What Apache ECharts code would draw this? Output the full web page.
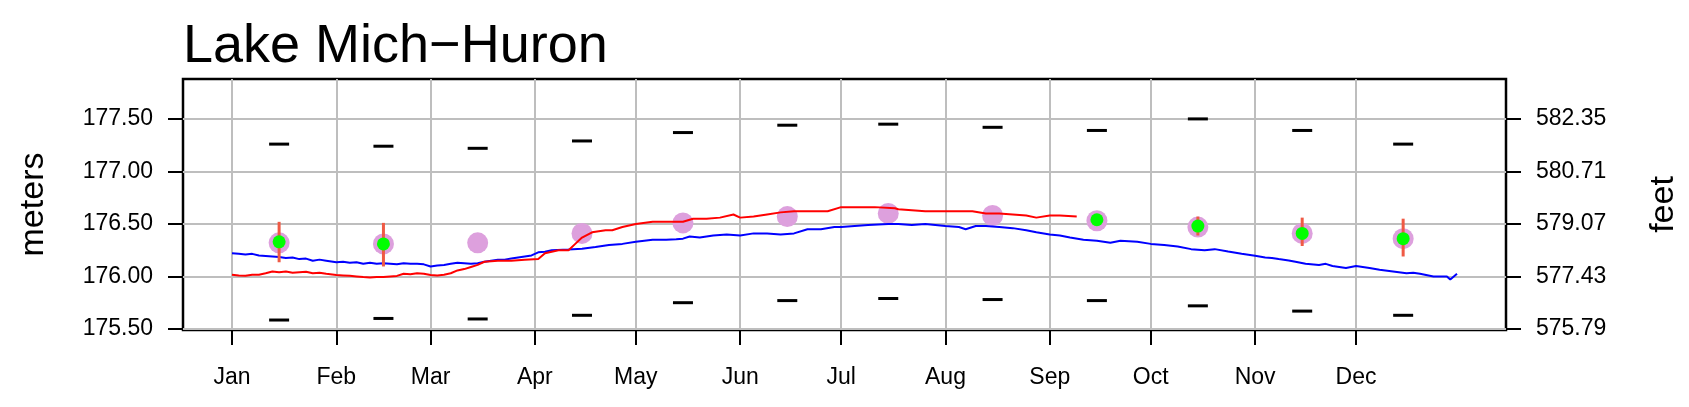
<!DOCTYPE html>
<html>
<head>
<meta charset="utf-8">
<title>Lake Mich-Huron</title>
<script src="https://cdn.jsdelivr.net/npm/echarts@6/dist/echarts.min.js"></script>
<style>
  html, body { margin: 0; padding: 0; background: #fff; }
  #main { width: 1689px; height: 407px; }
</style>
</head>
<body>
<div id="main"></div>
<script>
// month labels and where they sit (day of year)
var monthNames = ['Jan', 'Feb', 'Mar', 'Apr', 'May', 'Jun', 'Jul', 'Aug', 'Sep', 'Oct', 'Nov', 'Dec'];
var monthStarts = [0, 31, 59, 90, 120, 151, 181, 212, 243, 273, 304, 334];
var midMonth = [14, 45, 73, 104, 134, 165, 195, 226, 257, 287, 318, 348];
var meterTicks = [175.5, 176.0, 176.5, 177.0, 177.5];

// monthly mean, record max / min (meters)
var monthMean = [176.32, 176.31, 176.32, 176.41, 176.51, 176.57, 176.60, 176.58, 176.53, 176.47, 176.41, 176.36];
var monthMax = [177.26, 177.24, 177.22, 177.29, 177.37, 177.44, 177.45, 177.42, 177.39, 177.50, 177.39, 177.26];
var monthMin = [175.585, 175.60, 175.595, 175.63, 175.75, 175.77, 175.79, 175.78, 175.77, 175.72, 175.67, 175.63];

// forecast months (index into month arrays) with range
var fcMonth = [0, 1, 8, 9, 10, 11];
var fcLevel = [176.33, 176.31, 176.54, 176.48, 176.41, 176.36];
var fcHigh = [176.52, 176.51, 176.55, 176.57, 176.56, 176.55];
var fcLow = [176.135, 176.095, 176.53, 176.39, 176.29, 176.19];

// blue daily series
var blueDays = [0, 2, 4, 6, 8, 10, 12, 14, 16, 18, 20, 22, 24, 26, 28, 31, 33, 35, 37, 39, 41, 43, 45, 47, 49, 51,
  53, 55, 57, 59, 61, 63, 65, 67, 69, 71, 73, 75, 77, 79, 81, 83, 85, 87, 89, 91, 93, 95,
  100, 104, 108, 112, 116, 120, 125, 129, 132, 134, 136, 139, 143, 147, 151, 155, 159, 163, 167, 171, 175, 179, 181,
  185, 189, 195, 198, 202, 206, 212, 216, 218, 221, 224, 228, 232, 236, 239, 243, 246, 249, 253, 257, 261, 264,
  269, 273, 277, 281, 285, 289, 292, 296, 300, 304, 307, 309, 311, 314, 316, 319, 323, 325, 327, 331, 334, 338,
  341, 345, 349, 351, 353, 357, 361, 362, 364];
var blueLevel = [176.22, 176.215, 176.21, 176.215, 176.20, 176.195, 176.19, 176.185, 176.175, 176.18, 176.165,
  176.17, 176.15, 176.16, 176.15, 176.135, 176.14, 176.13, 176.135, 176.12, 176.13, 176.12, 176.125, 176.12,
  176.115, 176.125, 176.12, 176.12, 176.115, 176.095, 176.105, 176.11, 176.12, 176.13, 176.125, 176.12, 176.125,
  176.14, 176.15, 176.16, 176.16, 176.17, 176.18, 176.19, 176.2, 176.23, 176.235, 176.25,
  176.256, 176.263, 176.28, 176.30, 176.31, 176.33, 176.35, 176.35, 176.355, 176.36, 176.38, 176.37, 176.39, 176.40,
  176.39, 176.41, 176.41, 176.40, 176.41, 176.45, 176.45, 176.47, 176.47, 176.48, 176.49, 176.50, 176.50, 176.49,
  176.50, 176.48, 176.47, 176.45, 176.48, 176.48, 176.47, 176.46, 176.44, 176.42, 176.40, 176.39, 176.37, 176.35,
  176.34, 176.32, 176.34, 176.33, 176.31, 176.30, 176.285, 176.26, 176.25, 176.26, 176.237, 176.215, 176.196,
  176.18, 176.175, 176.165, 176.152, 176.14, 176.12, 176.11, 176.12, 176.10, 176.08, 176.10, 176.08, 176.063,
  176.047, 176.03, 176.035, 176.025, 176.0, 176.0, 175.97, 176.025];

// red daily series
var redDays = [0, 2, 4, 6, 8, 10, 12, 14, 16, 18, 20, 22, 24, 26, 28, 31, 33, 35, 37, 39, 41, 43, 45, 47, 49, 51,
  53, 55, 57, 59, 61, 63, 65, 67, 69, 71, 73, 75, 77, 79, 83, 87, 91, 93, 97,
  100, 102, 104, 107, 111, 113, 116, 120, 125, 129, 134, 137, 141, 145, 149, 151, 155, 159, 163, 167, 171, 177,
  181, 185, 191, 197, 198, 202, 206, 212, 216, 220, 224, 228, 232, 236, 239, 243, 246, 251];
var redLevel = [176.016, 176.01, 176.006, 176.015, 176.016, 176.03, 176.047, 176.04, 176.047, 176.035, 176.04,
  176.045, 176.03, 176.035, 176.025, 176.013, 176.01, 176.006, 176.0, 175.994, 175.99, 175.994, 175.995, 176.0,
  176.005, 176.025, 176.02, 176.03, 176.025, 176.013, 176.01, 176.016, 176.03, 176.057, 176.07, 176.09, 176.11,
  176.14, 176.145, 176.15, 176.15, 176.16, 176.165,
  176.22, 176.25, 176.25, 176.31, 176.37, 176.42, 176.44, 176.44, 176.47, 176.50, 176.52, 176.52, 176.52, 176.55,
  176.55, 176.56, 176.59, 176.56, 176.57, 176.59, 176.61, 176.62, 176.62, 176.62, 176.66, 176.66, 176.66, 176.65,
  176.64, 176.63, 176.62, 176.62, 176.62, 176.62, 176.60, 176.60, 176.59, 176.58, 176.56, 176.58, 176.58, 176.57];

var FT = 3.28084;
var FONT = 'Liberation Sans, Arial, sans-serif';

function zip(xs, ys) {
  return xs.map(function (x, i) { return [x, ys[i]]; });
}

var myChart = echarts.init(document.getElementById('main'), null, { renderer: 'canvas' });

var axisText = { color: '#000', fontSize: 23, fontFamily: FONT };

var option = {
  animation: false,
  backgroundColor: '#fff',
  title: {
    text: 'Lake Mich\u2212Huron',
    left: 178,
    top: 15,
    textStyle: { color: '#000', fontSize: 54, fontWeight: 'normal', fontFamily: FONT }
  },
  grid: {
    left: 183, right: 182, top: 79, bottom: 77,
    show: true, borderColor: '#000', borderWidth: 2.5, backgroundColor: 'transparent'
  },
  xAxis: {
    type: 'value',
    min: -14.56,
    max: 378.56,
    axisLine: { show: false, onZero: false },
    axisTick: {
      show: true, length: 15, inside: false, customValues: monthStarts,
      lineStyle: { color: '#000', width: 2 }
    },
    axisLabel: Object.assign({
      customValues: monthStarts, margin: 36,
      formatter: function (v) { return monthNames[monthStarts.indexOf(v)] || ''; }
    }, axisText),
    splitLine: { show: true, lineStyle: { color: '#bebebe', width: 2 } }
  },
  yAxis: [{
    type: 'value',
    min: 175.49,
    max: 177.88,
    name: 'meters',
    nameLocation: 'middle',
    nameRotate: 90,
    nameGap: 132,
    nameTextStyle: { color: '#000', fontSize: 34, fontFamily: FONT },
    axisLine: { show: false, onZero: false },
    axisTick: {
      show: true, length: 15, customValues: meterTicks,
      lineStyle: { color: '#000', width: 2 }
    },
    axisLabel: Object.assign({
      customValues: meterTicks, margin: 30,
      formatter: function (v) { return v.toFixed(2); }
    }, axisText),
    splitLine: { show: true, lineStyle: { color: '#bebebe', width: 2 } }
  }, {
    type: 'value',
    position: 'right',
    min: 175.49,
    max: 177.88,
    name: 'feet',
    nameLocation: 'middle',
    nameRotate: 90,
    nameGap: 141,
    nameTextStyle: { color: '#000', fontSize: 34, fontFamily: FONT },
    axisLine: { show: false, onZero: false },
    axisTick: {
      show: true, length: 15, customValues: meterTicks,
      lineStyle: { color: '#000', width: 2 }
    },
    axisLabel: Object.assign({
      customValues: meterTicks, margin: 30,
      formatter: function (v) { return (v * FT).toFixed(2); }
    }, axisText),
    splitLine: { show: false }
  }],
  series: [{
    name: 'mean',
    type: 'scatter',
    z: 2,
    symbol: 'circle',
    symbolSize: 21,
    itemStyle: { color: '#dda0dd', opacity: 1 },
    data: zip(midMonth, monthMean)
  }, {
    name: 'blue',
    type: 'line',
    z: 3,
    showSymbol: false,
    lineStyle: { color: '#0000ff', width: 2 },
    data: zip(blueDays, blueLevel)
  }, {
    name: 'red',
    type: 'line',
    z: 3,
    showSymbol: false,
    lineStyle: { color: '#ff0000', width: 2 },
    data: zip(redDays, redLevel)
  }, {
    name: 'range',
    type: 'custom',
    z: 4,
    data: fcMonth.map(function (m, i) { return [midMonth[m], fcLow[i], fcHigh[i]]; }),
    renderItem: function (params, api) {
      var a = api.coord([api.value(0), api.value(1)]);
      var b = api.coord([api.value(0), api.value(2)]);
      return {
        type: 'line',
        shape: { x1: a[0], y1: a[1], x2: b[0], y2: b[1] },
        style: { stroke: '#ef5a45', lineWidth: 3 }
      };
    }
  }, {
    name: 'forecast',
    type: 'scatter',
    z: 5,
    symbolSize: 13,
    itemStyle: { color: '#00ff00', opacity: 1 },
    data: fcMonth.map(function (m, i) { return [midMonth[m], fcLevel[i]]; })
  }, {
    name: 'max',
    type: 'scatter',
    z: 5,
    symbol: 'rect',
    symbolSize: [20, 3],
    itemStyle: { color: '#000', opacity: 1 },
    data: zip(midMonth, monthMax)
  }, {
    name: 'min',
    type: 'scatter',
    z: 5,
    symbol: 'rect',
    symbolSize: [20, 3],
    itemStyle: { color: '#000', opacity: 1 },
    data: zip(midMonth, monthMin)
  }]
};

myChart.setOption(option);
</script>
</body>
</html>
